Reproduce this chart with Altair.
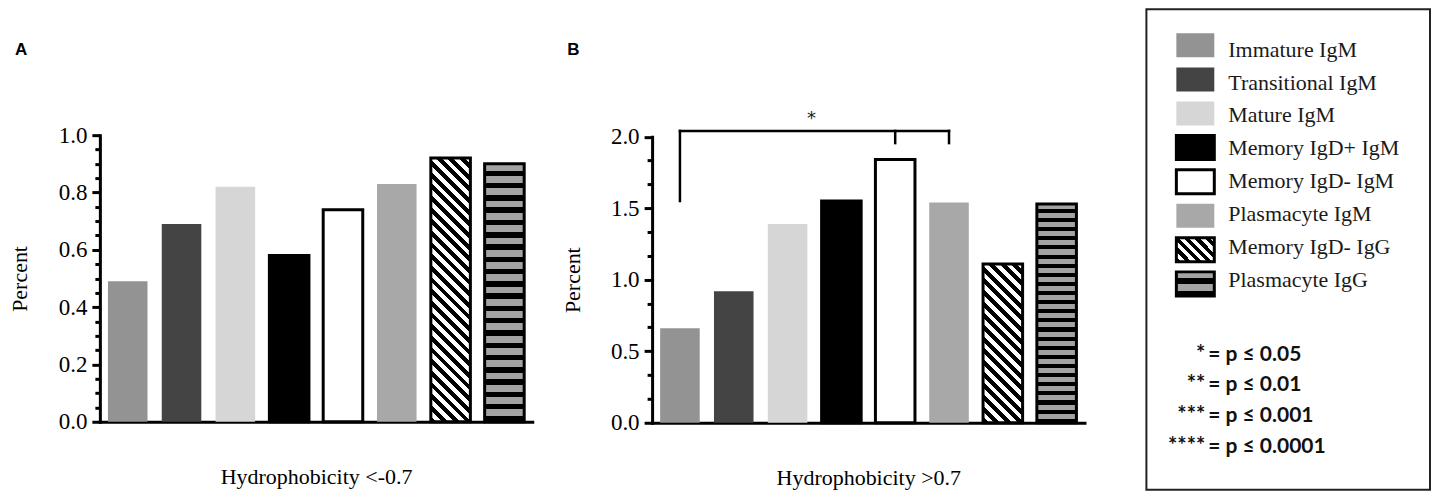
import altair as alt
import pandas as pd

# ---------------- data ----------------
CATEGORIES = [
    "Immature IgM", "Transitional IgM", "Mature IgM", "Memory IgD+ IgM",
    "Memory IgD- IgM", "Plasmacyte IgM", "Memory IgD- IgG", "Plasmacyte IgG",
]
FILLS = ["#939393", "#444444", "#d6d6d6", "#000000", "#ffffff", "#a8a8a8", "#ffffff", "#a3a3a3"]
STROKES = ["transparent", "transparent", "transparent", "#000000", "#000000",
           "transparent", "#000000", "#000000"]
HATCH_CAT = "Memory IgD- IgG"
STRIPE_CAT = "Plasmacyte IgG"

A_VALUES = [0.49, 0.69, 0.82, 0.58, 0.74, 0.83, 0.92, 0.90]
B_VALUES = [0.66, 0.92, 1.39, 1.55, 1.84, 1.54, 1.11, 1.53]

PANEL_LABELS = ["A", "B"]
X_TITLES = ["Hydrophobicity <-0.7", "Hydrophobicity >0.7"]
Y_TITLE = "Percent"

A_DOMAIN = [0.0, 1.0]
B_DOMAIN = [0.0, 2.0]
A_TICKS = [0.0, 0.05, 0.1, 0.15, 0.2, 0.25, 0.3, 0.35, 0.4, 0.45, 0.5, 0.55,
           0.6, 0.65, 0.7, 0.75, 0.8, 0.85, 0.9, 0.95, 1.0]
B_TICKS = [0.0, 0.1667, 0.3333, 0.5, 0.6667, 0.8333, 1.0, 1.1667, 1.3333,
           1.5, 1.6667, 1.8333, 2.0]

# significance bracket in panel B
BRACKET_SPAN = ["Immature IgM", "Plasmacyte IgM"]
BRACKET_TOP = 2.04
BRACKET_LEG_CATS = ["Immature IgM", "Memory IgD- IgM", "Plasmacyte IgM"]
BRACKET_LEG_ENDS = [1.55, 1.955, 1.955]
SIG_TEXT = "*"
SIG_CAT = "Mature IgM"
SIG_Y = 2.12

P_STARS = ["*", "**", "***", "****"]
P_TEXTS = ["= p \u2264 0.05", "= p \u2264 0.01", "= p \u2264 0.001", "= p \u2264 0.0001"]

# ---------------- style ----------------
SERIF = "Liberation Serif"
SANS_BOLD = "Lato, DejaVu Sans"
PLOT_W = 433
PAD_IN = 0.265
PAD_OUT = 0.15
VIEW_H = 481
A_RANGE = [413, 126]
B_RANGE = [414, 127.5]
STEP = PLOT_W / (len(CATEGORIES) - PAD_IN + 2 * PAD_OUT)
BAR_W = STEP * (1 - PAD_IN)


def diag_hatch(w, h, period, dark="#000000", light="#ffffff", dark_frac=0.5):
    n = max(1, int(round((w + h) / period)))
    k = (w + h) / (w * w + h * h)
    stops = []
    for i in range(n):
        a, m, b = i / n, (i + dark_frac) / n, (i + 1) / n
        stops += [alt.GradientStop(color=dark, offset=round(a, 5)),
                  alt.GradientStop(color=dark, offset=round(m, 5)),
                  alt.GradientStop(color=light, offset=round(m, 5)),
                  alt.GradientStop(color=light, offset=round(b, 5))]
    return alt.LinearGradient(gradient="linear", stops=stops, x1=0, y1=1,
                              x2=round(k * w, 5), y2=round(1 - k * h, 5))


def h_stripes(h, period, dark="#000000", light="#a3a3a3", light_frac=0.55):
    n = max(1, int(round(h / period)))
    stops = []
    for i in range(n):
        a, m, b = i / n, (i + light_frac) / n, (i + 1) / n
        stops += [alt.GradientStop(color=light, offset=round(a, 5)),
                  alt.GradientStop(color=light, offset=round(m, 5)),
                  alt.GradientStop(color=dark, offset=round(m, 5)),
                  alt.GradientStop(color=dark, offset=round(b, 5))]
    return alt.LinearGradient(gradient="linear", stops=stops, x1=0, y1=0, x2=0, y2=1)


fill_scale = alt.Scale(domain=CATEGORIES, range=FILLS)
stroke_scale = alt.Scale(domain=CATEGORIES, range=STROKES)


def panel(values, domain, rng, ticks, major_mult, x_title, label, stripe_period):
    df = pd.DataFrame({"category": CATEGORIES, "value": values})
    major_test = f"abs(datum.value*{major_mult} - round(datum.value*{major_mult})) < 0.001"
    yaxis = alt.Axis(
        values=ticks,
        labelExpr=f"{major_test} ? format(datum.value, '.1f') : ''",
        labelOverlap=False,
        labelPadding=5,
        tickSize={"condition": {"test": major_test, "value": 8}, "value": 5},
        title=Y_TITLE,
        titleX=-80,
        titleY=(rng[0] + rng[1]) / 2,
        titleAlign="center",
        titleBaseline="middle",
    )
    xaxis = alt.Axis(
        labels=False, ticks=False, offset=-(VIEW_H - rng[0]),
        title=x_title, titleX=PLOT_W / 2, titleY=55,
        titleAlign="center", titleBaseline="middle",
    )
    xscale = alt.Scale(domain=CATEGORIES, range=[0, PLOT_W],
                       paddingInner=PAD_IN, paddingOuter=PAD_OUT)
    yscale = alt.Scale(domain=domain, range=rng, nice=False, zero=True)
    x = alt.X("category:N", sort=CATEGORIES, axis=xaxis, scale=xscale)
    y = alt.Y("value:Q", axis=yaxis, scale=yscale)
    base = alt.Chart(df).encode(x=x, y=y)
    plain = base.transform_filter(
        (alt.datum.category != HATCH_CAT) & (alt.datum.category != STRIPE_CAT)
    ).mark_bar(strokeWidth=3).encode(
        fill=alt.Fill("category:N", scale=fill_scale, legend=None),
        stroke=alt.Stroke("category:N", scale=stroke_scale, legend=None),
    )
    px_per_unit = (rng[0] - rng[1]) / (domain[1] - domain[0])
    vh = values[CATEGORIES.index(HATCH_CAT)] * px_per_unit
    vs = values[CATEGORIES.index(STRIPE_CAT)] * px_per_unit
    hatch = base.transform_filter(alt.datum.category == HATCH_CAT).mark_bar(
        fill=diag_hatch(BAR_W, vh, 11.5), stroke="#000000", strokeWidth=3)
    stripe = base.transform_filter(alt.datum.category == STRIPE_CAT).mark_bar(
        fill=h_stripes(vs, stripe_period), stroke="#000000", strokeWidth=3)
    lab = alt.Chart(pd.DataFrame({"t": [label]})).mark_text(
        align="left", baseline="middle", font="Liberation Sans", fontWeight="bold",
        fontSize=17, color="#000000",
    ).encode(text="t:N", x=alt.value(-85), y=alt.value(41))
    return [plain, hatch, stripe, lab], (xaxis, xscale), (yaxis, yscale)


layers_a, _, _ = panel(A_VALUES, A_DOMAIN, A_RANGE, A_TICKS, 5, X_TITLES[0], PANEL_LABELS[0], 12.2)
chart_a = alt.layer(*layers_a).properties(
    width=PLOT_W + 58, height=VIEW_H, view=alt.ViewBackground(stroke="transparent"))

layers_b, (bxaxis, bxscale), (byaxis, byscale) = panel(
    B_VALUES, B_DOMAIN, B_RANGE, B_TICKS, 2, X_TITLES[1], PANEL_LABELS[1], 9.2)

# significance bracket
span_df = pd.DataFrame({"category": [BRACKET_SPAN[0]], "x2": [BRACKET_SPAN[1]], "value": [BRACKET_TOP]})
legs_df = pd.DataFrame({"category": BRACKET_LEG_CATS, "value": [BRACKET_TOP] * 3, "y2": BRACKET_LEG_ENDS})
sig_df = pd.DataFrame({"category": [SIG_CAT], "value": [SIG_Y], "t": [SIG_TEXT]})
bx = alt.X("category:N", sort=CATEGORIES, axis=bxaxis, scale=bxscale)
by = alt.Y("value:Q", axis=byaxis, scale=byscale)
span = alt.Chart(span_df).mark_rule(color="#000000", strokeWidth=2.5, strokeCap="square").encode(
    x=bx, x2="x2:N", y=by)
legs = alt.Chart(legs_df).mark_rule(color="#000000", strokeWidth=2.5, strokeCap="square").encode(
    x=bx, y=by, y2="y2:Q")
sig = alt.Chart(sig_df).mark_text(fontSize=18, font="DejaVu Sans", color="#222222", dx=24,
                                  baseline="middle").encode(x=bx, y=by, text="t:N")

chart_b = alt.layer(*layers_b, span, legs, sig).properties(
    width=PLOT_W, height=VIEW_H, view=alt.ViewBackground(stroke="transparent"))

# ---------------- legend panel ----------------
LEG_W = 284
leg_df = pd.DataFrame({"category": CATEGORIES})
ly = alt.Y("category:N", sort=CATEGORIES, axis=None,
           scale=alt.Scale(domain=CATEGORIES, range=[24, 287], paddingInner=0.294, paddingOuter=0))
sw = alt.Chart(leg_df).encode(y=ly, x=alt.value(30), x2=alt.value(68))
sw_plain = sw.transform_filter(
    (alt.datum.category != HATCH_CAT) & (alt.datum.category != STRIPE_CAT)
).mark_rect(strokeWidth=3).encode(
    fill=alt.Fill("category:N", scale=fill_scale, legend=None),
    stroke=alt.Stroke("category:N", scale=stroke_scale, legend=None),
)
sw_h = sw.transform_filter(alt.datum.category == HATCH_CAT).mark_rect(
    fill=diag_hatch(38, 24, 11), stroke="#000000", strokeWidth=3)
sw_s = sw.transform_filter(alt.datum.category == STRIPE_CAT).mark_rect(
    fill=h_stripes(24, 10), stroke="#000000", strokeWidth=3)
sw_text = alt.Chart(leg_df).mark_text(
    align="left", baseline="middle", font=SERIF, fontSize=22, color="#1a1a1a"
).encode(y=ly, x=alt.value(82), text="category:N")

p_df = pd.DataFrame({"row": [0, 1, 2, 3], "stars": P_STARS, "text": P_TEXTS})
py = alt.Y("row:O", axis=None, scale=alt.Scale(type="point", domain=[0, 1, 2, 3], range=[346, 438], padding=0))
p_stars = alt.Chart(p_df).mark_text(
    align="right", baseline="middle", font=SANS_BOLD, fontWeight="bold", fontSize=22, color="#111111", dy=-1
).encode(y=py, x=alt.value(59), text="stars:N")
p_text = alt.Chart(p_df).mark_text(
    align="left", baseline="middle", font=SANS_BOLD, fontWeight="bold", fontSize=21, color="#111111"
).encode(y=py, x=alt.value(62), text="text:N")

legend = alt.layer(sw_plain, sw_h, sw_s, sw_text, p_stars, p_text).resolve_scale(y="independent").properties(
    width=LEG_W, height=VIEW_H, view=alt.ViewBackground(stroke="#222222", strokeWidth=2))

chart = alt.hconcat(chart_a, chart_b, legend, spacing=62, bounds="flush").properties(
    padding={"left": 0, "top": 0, "right": 0, "bottom": 0}
).configure_axis(
    labelFont=SERIF, labelFontSize=23, labelColor="#000000",
    titleFont=SERIF, titleFontSize=22, titleFontWeight="normal", titleColor="#000000",
    domainColor="#000000", domainWidth=3, domainCap="square",
    tickColor="#000000", tickWidth=3, grid=False,
)

chart.save("out.html", embed_options={"renderer": "svg", "actions": False})
